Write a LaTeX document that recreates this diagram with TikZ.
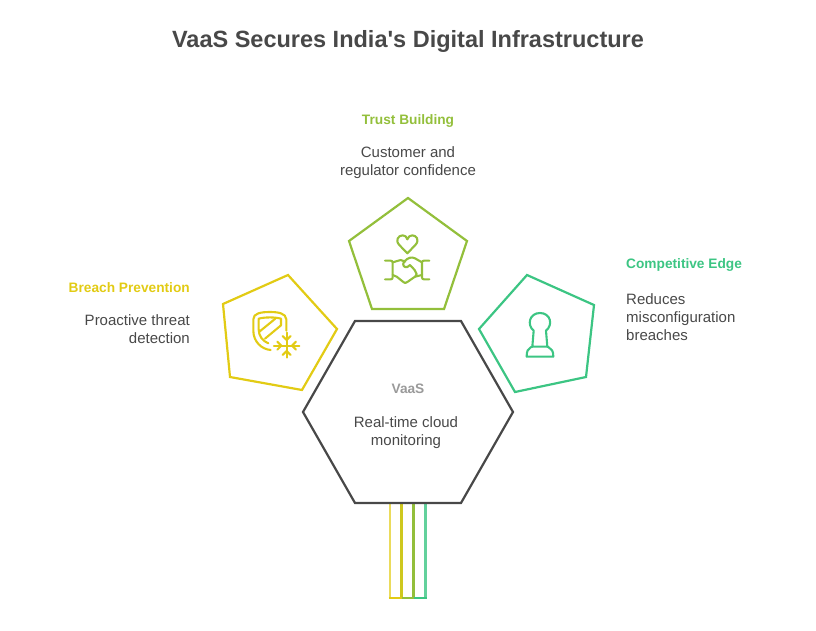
\documentclass[tikz,border=0pt]{standalone}
\usepackage{fontspec}
\setmainfont{Liberation Sans}
\definecolor{ink}{HTML}{484848}
\definecolor{fade}{HTML}{9A9A9A}
\definecolor{breach}{HTML}{E2CB14}
\definecolor{trust}{HTML}{93BF3B}
\definecolor{edgegreen}{HTML}{3CC583}
\tikzset{
  shape line/.style={line width=2.2pt,line join=miter},
  stripe line/.style={line width=2.8pt},
  icon line/.style={line width=2.1pt,line cap=round,line join=round},
  headtext/.style={font=\fontsize{13.7}{18}\selectfont\bfseries,inner sep=0pt},
  bodytext/.style={font=\fontsize{15}{18}\selectfont,text=ink,inner sep=0pt},
}
\begin{document}
\begin{tikzpicture}[x=1pt,y=-1pt]
\useasboundingbox (0,0) rectangle (816,630);
\draw (408,41.5) node[font=\fontsize{23.5}{28}\selectfont\bfseries,text=ink] (title) {VaaS Secures India\textquotesingle s Digital Infrastructure};
% stripes below the hexagon
\draw[stripe line,breach!70] (390,503) -- (390,598);
\draw[stripe line,breach!75!trust] (401.7,503) -- (401.7,598);
\draw[stripe line,trust] (413.7,503) -- (413.7,598);
\draw[stripe line,edgegreen!80] (425.5,503) -- (425.5,598);
\draw[stripe line,breach] (388.6,598) -- (401.7,598);
\draw[stripe line,trust] (401.7,598) -- (413.7,598);
\draw[stripe line,edgegreen] (413.7,598) -- (426.9,598);
% pentagons and hexagon
\draw[shape line,breach] (288,275) -- (337,329) -- (302,390) -- (230,377) -- (223,304) -- cycle;
\draw[shape line,trust] (408,198) -- (467,241) -- (444,309) -- (372,309) -- (349,241) -- cycle;
\draw[shape line,edgegreen] (527,275) -- (594,305) -- (586,377) -- (515,392) -- (479,329) -- cycle;
\draw[shape line,ink] (355,321) -- (461,321) -- (513,412) -- (461,503) -- (355,503) -- (303,412) -- cycle;
% shield icon
\begin{scope}[shift={(210,260)},x=.3333pt,y=-.3333pt,icon line,breach]
\draw (229,212) -- (229,178) .. controls (228,160) and (205,156) .. (180,156) .. controls (152,156) and (130,160) .. (130,178) -- (130,212) .. controls (130,245) and (155,268) .. (182,270);
\draw (175,250) .. controls (158,243) and (146,228) .. (146,208) -- (146,176) .. controls (165,171) and (195,171) .. (213,176) -- (213,196);
\draw (147,216) -- (196,176);
\draw (165,236) -- (213,196);
\draw (192,257) -- (268,257);
\draw (230,218) -- (230,293);
\draw (218,228) -- (230,240) -- (242,228);
\draw (218,285) -- (230,273) -- (242,285);
\draw (202,245) -- (214,257) -- (202,269);
\draw (258,245) -- (246,257) -- (258,269);
\end{scope}
% handshake icon
\begin{scope}[shift={(380,230)},x=.3333pt,y=-.3333pt,icon line,trust]
\draw (82,70) -- (58,45) .. controls (44,30) and (56,16) .. (68,16) .. controls (75,16) and (80,20) .. (82,28) .. controls (85,20) and (90,16) .. (97,16) .. controls (109,16) and (120,30) .. (106,45) -- cycle;
\draw (15,92) -- (32,92) .. controls (36,92) and (38,94) .. (38,98) -- (38,142) .. controls (38,146) and (36,148) .. (32,148) -- (15,148);
\draw (148,92) -- (132,92) .. controls (128,92) and (126,94) .. (126,98) -- (126,142) .. controls (126,146) and (128,148) .. (132,148) -- (148,148);
\draw (38,97) -- (62,90) -- (76,95);
\draw (126,97) -- (105,85) .. controls (95,80) and (85,82) .. (72,95) .. controls (66,105) and (72,114) .. (82,111) -- (90,105) -- (104,120) -- (110,132) -- (106,140);
\draw (38,135) -- (50,140) -- (70,156) .. controls (74,160) and (78,160) .. (82,156) -- (105,140) -- (126,135);
\end{scope}
% keyhole icon
\begin{scope}[shift={(470,265)},x=.3333pt,y=-.3333pt,icon line,edgegreen]
\draw (191,197) .. controls (170,180) and (178,144) .. (210,144) .. controls (242,144) and (250,180) .. (228,197) -- (232,245) -- (187,245) -- cycle;
\draw (187,245) -- (182,247) .. controls (174,251) and (170,258) .. (170,275) -- (250,275) .. controls (250,258) and (245,251) .. (236,247) -- (232,245);
\end{scope}
% labels
\draw (408,120.5) node[headtext,text=trust] (trusthead) {Trust Building};
\draw (408,163) node[bodytext,align=center] (trustbody) {Customer and\\regulator confidence};
\draw (190,287.5) node[headtext,text=breach,anchor=east] (breachhead) {Breach Prevention};
\draw (190,329) node[bodytext,align=right,anchor=east] (breachbody) {Proactive threat\\detection};
\draw (626,264.5) node[headtext,text=edgegreen,anchor=west] (edgehead) {Competitive Edge};
\draw (626,317) node[bodytext,align=left,anchor=west] (edgebody) {Reduces\\misconfiguration\\breaches};
\draw (408,388.5) node[headtext,text=fade] (vaashead) {VaaS};
\draw (406,433) node[bodytext,align=center] (vaasbody) {Real-time cloud\\monitoring};
\end{tikzpicture}
\end{document}
